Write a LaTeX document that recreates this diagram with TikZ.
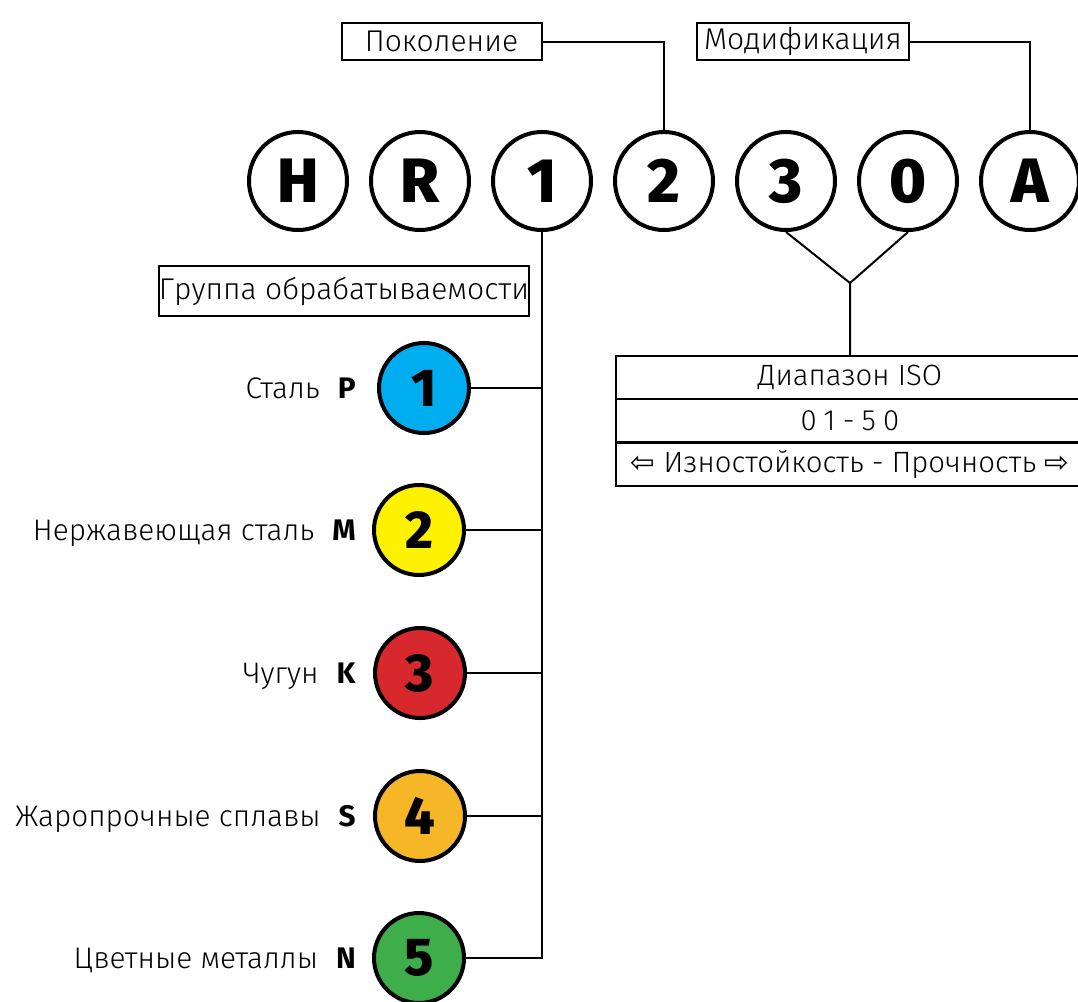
\documentclass[tikz,border=0pt]{standalone}
\usepackage{fontspec}
\IfFontExistsTF{Fira Sans Light}
  {\setmainfont{Fira Sans Light}[BoldFont={Fira Sans Bold}]}
  {\setmainfont{Fira Sans}}
\IfFontExistsTF{Fira Sans ExtraBold}
  {\newfontfamily\heavyfont{Fira Sans ExtraBold}}
  {\newfontfamily\heavyfont{Fira Sans}[UprightFont={* Bold}]}
\newfontfamily\arrowfont{DejaVu Sans}
\usepackage{xcolor}
\usepackage{tikz}
\definecolor{isoP}{RGB}{0,174,239}
\definecolor{isoM}{RGB}{255,242,0}
\definecolor{isoK}{RGB}{214,40,45}
\definecolor{isoS}{RGB}{245,182,40}
\definecolor{isoN}{RGB}{61,174,73}
\begin{document}
\begin{tikzpicture}[x=0.75pt,y=-0.75pt]
\tikzstyle{code} = [circle,draw,line width=3pt,minimum size=73.5pt,inner sep=0,font=\fontsize{47}{47}\heavyfont];
\tikzstyle{group} = [circle,draw,line width=3pt,minimum size=67.5pt,inner sep=0,font=\fontsize{40}{40}\heavyfont];
\tikzstyle{label} = [draw,line width=1.5pt,inner sep=0,font=\fontsize{22.5}{26}\selectfont];
\tikzstyle{row} = [draw,line width=1.5pt,inner sep=0,minimum width=351pt,minimum height=32.5pt,font=\fontsize{22}{26}\selectfont];
\tikzstyle{material} = [anchor=base east,inner sep=0,font=\fontsize{22.3}{26}\selectfont];
\tikzstyle{conn} = [line width=1.5pt];
\useasboundingbox (0,0) rectangle (1078,1001);
\node [code] (v1) at (298,181) {H};
\node [code] (v2) at (420,181) {R};
\node [code] (v3) at (542,181) {1};
\node [code] (v4) at (664,181) {2};
\node [code] (v5) at (786,181) {3};
\node [code] (v6) at (908,181) {0};
\node [code] (v7) at (1030,181) {A};

\node [label,minimum width=150pt,minimum height=28pt] (b1) at (441.5,41.5) {Поколение};
\node [label,minimum width=159pt,minimum height=28pt] (b2) at (803,41.5) {Модификация};
\draw [conn] (b1.east) -| (v4.north);
\draw [conn] (b2.east) -| (v7.north);

\node [label,minimum width=278pt,minimum height=38pt] (b3) at (344,291) {Группа обрабатываемости};
\node [group,fill=isoP] (g1) at (424,388) {1};
\node [group,fill=isoM] (g2) at (419,530) {2};
\node [group,fill=isoK] (g3) at (420,673) {3};
\node [group,fill=isoS] (g4) at (420,816) {4};
\node [group,fill=isoN] (g5) at (419,958) {5};
\node [material] (m1) at (356,398) {Сталь\hspace{13.5pt}\textbf{P}};
\node [material] (m2) at (356,540) {Нержавеющая сталь\hspace{13.5pt}\textbf{M}};
\node [material] (m3) at (356,683) {Чугун\hspace{13.5pt}\textbf{K}};
\node [material] (m4) at (356,826) {Жаропрочные сплавы\hspace{13.5pt}\textbf{S}};
\node [material] (m5) at (356,968) {Цветные металлы\hspace{13.5pt}\textbf{N}};
\draw [conn] (v3.south) |- (g5.east);
\draw [conn] (g1.east) -- (g1.east -| v3.south);
\draw [conn] (g2.east) -- (g2.east -| v3.south);
\draw [conn] (g3.east) -- (g3.east -| v3.south);
\draw [conn] (g4.east) -- (g4.east -| v3.south);

\node [row] (t1) at (850,377.5) {Диапазон ISO};
\node [row] (t2) at (850,421) {\addfontfeature{LetterSpace=25}01-50};
\node [row] (t3) at (850,464) {{\arrowfont ⇦} Изностойкость - Прочность {\arrowfont ⇨}};
\coordinate (j) at (850,283);
\draw [conn] (v5.south) -- (j) -- (t1.north);
\draw [conn] (v6.south) -- (j);
\end{tikzpicture}
\end{document}
